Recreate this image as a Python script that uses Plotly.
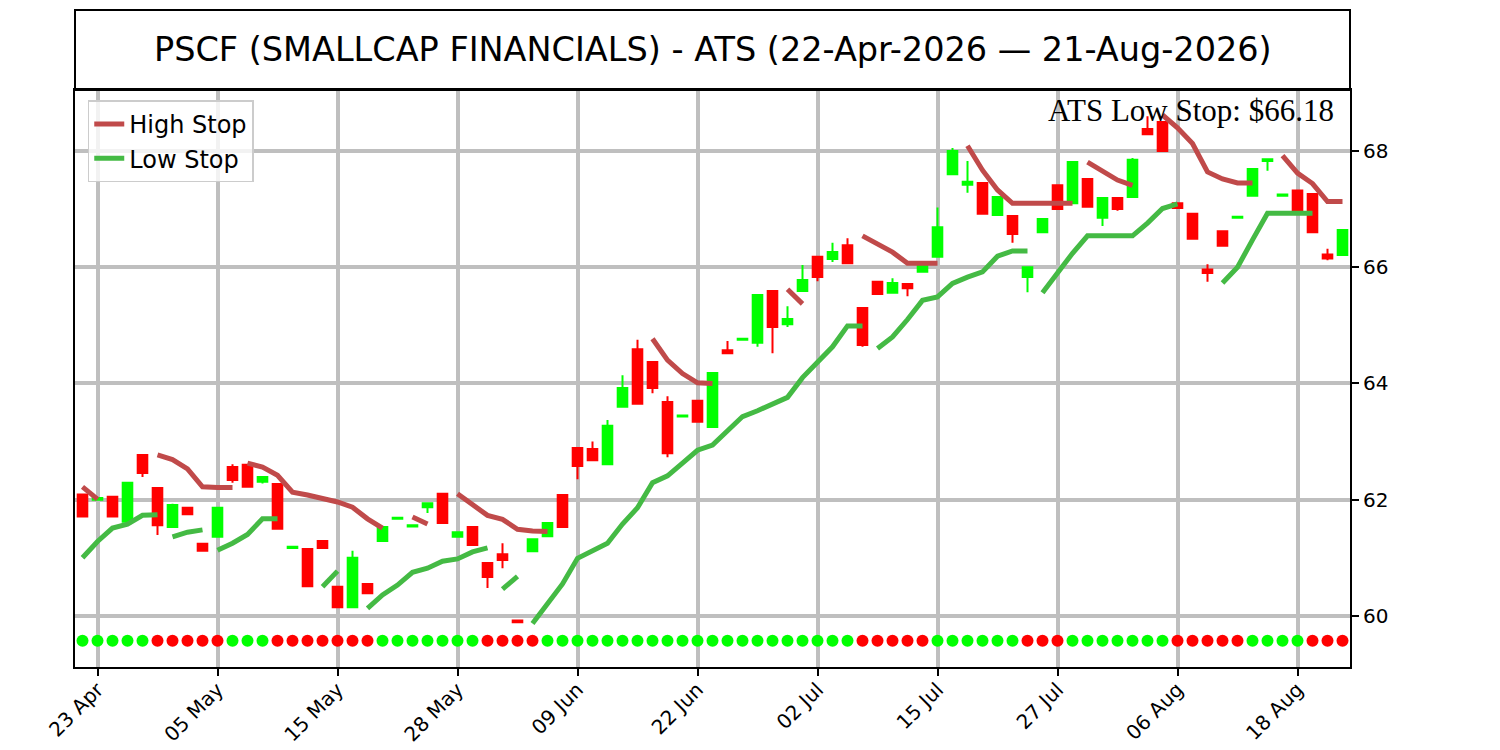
import pandas as pd
import plotly.graph_objects as go

TITLE = "PSCF (SMALLCAP FINANCIALS) - ATS (22-Apr-2026 — 21-Aug-2026)"
LAST_STOP_TEXT = "ATS Low Stop: $66.18"

# trading days 22 Apr .. 21 Aug 2026 (market holidays skipped)
HOLIDAYS = ["2026-05-25", "2026-06-19", "2026-07-03"]

OPEN = [62.09, 62.00, 62.05, 61.62, 62.77, 62.20, 61.53, 61.86, 61.24, 61.36,
        62.56, 62.60, 62.31, 62.27, 61.17, 61.15, 61.29, 60.50, 60.15, 60.55,
        61.29, 61.67, 61.54, 61.87, 62.10, 61.36, 61.53, 60.91, 61.06, 59.92,
        61.11, 61.37, 62.08, 62.89, 62.87, 62.61, 63.60, 64.59, 64.37, 63.68,
        63.43, 63.70, 63.25, 64.57, 64.75, 64.70, 65.59, 65.02, 65.59, 66.18,
        66.14, 66.38, 65.30, 65.75, 65.56, 65.71, 65.92, 66.18, 67.60, 67.42,
        67.45, 66.90, 66.88, 65.83, 66.60, 67.41, 67.10, 67.52, 66.85, 67.19,
        67.21, 68.38, 68.50, 67.10, 66.92, 65.96, 66.62, 66.85, 67.23, 67.83,
        67.23, 67.32, 67.26, 66.22, 66.21]
HIGH = [62.09, 62.04, 62.05, 62.29, 62.78, 62.20, 61.93, 61.86, 61.24, 61.86,
        62.61, 62.60, 62.39, 62.27, 61.19, 61.15, 61.29, 60.50, 61.12, 60.55,
        61.53, 61.69, 61.56, 61.94, 62.10, 61.44, 61.53, 60.91, 61.25, 59.93,
        61.32, 61.60, 62.08, 62.89, 63.00, 63.37, 64.14, 64.75, 64.37, 63.78,
        63.45, 63.70, 64.18, 64.73, 64.77, 65.52, 65.59, 65.33, 66.04, 66.18,
        66.42, 66.50, 65.30, 65.75, 65.81, 65.71, 66.04, 67.03, 68.05, 67.83,
        67.45, 67.21, 66.88, 66.00, 66.83, 67.41, 67.81, 67.52, 67.19, 67.19,
        67.88, 68.60, 68.50, 67.10, 66.92, 66.05, 66.62, 66.87, 67.69, 67.87,
        67.25, 67.32, 67.26, 66.32, 66.64]
LOW = [61.71, 61.99, 61.71, 61.62, 62.39, 61.39, 61.53, 61.75, 61.12, 61.36,
       62.29, 62.22, 62.28, 61.50, 61.17, 60.51, 61.15, 60.15, 60.15, 60.39,
       61.29, 61.67, 61.54, 61.77, 61.60, 61.36, 61.22, 60.48, 60.82, 59.88,
       61.11, 61.37, 61.53, 62.35, 62.68, 62.61, 63.60, 63.65, 63.83, 62.73,
       63.43, 63.34, 63.25, 64.52, 64.75, 64.63, 64.52, 64.97, 65.59, 65.76,
       66.09, 66.07, 64.63, 65.54, 65.56, 65.50, 65.92, 66.18, 67.60, 67.28,
       66.92, 66.90, 66.42, 65.57, 66.60, 67.00, 67.10, 67.04, 66.71, 66.97,
       67.21, 68.29, 68.00, 67.02, 66.49, 65.75, 66.37, 66.85, 67.23, 67.66,
       67.23, 66.96, 66.60, 66.12, 66.21]
CLOSE = [61.71, 62.03, 61.71, 62.29, 62.46, 61.56, 61.91, 61.75, 61.12, 61.86,
         62.34, 62.22, 62.39, 61.50, 61.19, 60.51, 61.17, 60.15, 61.00, 60.39,
         61.53, 61.69, 61.56, 61.94, 61.60, 61.44, 61.22, 60.67, 60.96, 59.89,
         61.32, 61.60, 61.53, 62.58, 62.68, 63.27, 63.92, 63.65, 63.92, 62.80,
         63.45, 63.34, 64.18, 64.52, 64.77, 65.52, 64.97, 65.11, 65.78, 65.83,
         66.26, 66.07, 64.66, 65.54, 65.73, 65.64, 66.04, 66.69, 68.00, 67.47,
         66.92, 67.21, 66.57, 66.00, 66.83, 67.00, 67.81, 67.04, 67.19, 67.00,
         67.85, 68.29, 68.00, 67.02, 66.49, 65.90, 66.37, 66.87, 67.69, 67.86,
         67.25, 66.96, 66.60, 66.15, 66.64]

# stop lines come in separate runs: (first bar index, values)
HIGH_STOP_SEGMENTS = [
    (0, [62.22, 62.01]),
    (5, [62.77, 62.69, 62.53, 62.22, 62.21, 62.21]),
    (11, [62.63, 62.56, 62.42, 62.13, 62.08, 62.03, 61.96, 61.87, 61.67, 61.51]),
    (22, [61.70, 61.58]),
    (25, [62.10, 61.92, 61.73, 61.66, 61.49, 61.46, 61.45]),
    (38, [64.77, 64.40, 64.17, 64.01, 64.00]),
    (47, [65.62, 65.37]),
    (52, [66.54, 66.40, 66.26, 66.07, 66.07, 66.07]),
    (59, [68.09, 67.67, 67.33, 67.10, 67.10, 67.10, 67.10, 67.10]),
    (67, [67.81, 67.66, 67.50, 67.41]),
    (72, [68.62, 68.40, 68.13, 67.64, 67.52, 67.45, 67.45]),
    (80, [67.92, 67.62, 67.44, 67.13, 67.13]),
]
LOW_STOP_SEGMENTS = [
    (0, [61.00, 61.28, 61.51, 61.58, 61.73, 61.74]),
    (6, [61.36, 61.44, 61.48]),
    (9, [61.13, 61.25, 61.40, 61.67, 61.67]),
    (16, [60.50, 60.77]),
    (19, [60.13, 60.36, 60.53, 60.75, 60.82, 60.94, 60.98, 61.10, 61.17]),
    (28, [60.46, 60.68]),
    (30, [59.87, 60.20, 60.55, 60.99, 61.12, 61.25, 61.58, 61.86, 62.29, 62.41,
          62.63, 62.85, 62.94, 63.20, 63.43, 63.53, 63.65, 63.76, 64.10, 64.35,
          64.63, 64.99, 64.99]),
    (53, [64.60, 64.80, 65.10, 65.43, 65.49, 65.72, 65.83, 65.92, 66.19, 66.28,
          66.28]),
    (64, [65.56, 65.90, 66.24, 66.54, 66.54, 66.54, 66.54, 66.76, 67.01, 67.09]),
    (76, [65.73, 66.00, 66.47, 66.93, 66.93, 66.93, 66.93]),
]

# trend state per bar (G = up, R = down), shown as the dot row at the bottom
TREND = ("GGGGG RRRRR GGG RRRRRRR GGGGGGG RRRR GGGGGGGGGGGGGGGGGGGGG "
         "RRRRR GGGGGG RRR GGGGGGG RRRRR GGGG RRR").replace(" ", "")
DOT_LEVEL = 59.57

UP = "#00ff00"
DOWN = "#ff0000"
HIGH_STOP_COLOR = "rgb(192,74,74)"
LOW_STOP_COLOR = "rgb(68,186,68)"
GRID = "#bfbfbf"
FONT = "DejaVu Sans"

dates = pd.bdate_range("2026-04-22", "2026-08-21", freq="C", holidays=HOLIDAYS)
idx = list(range(len(dates)))
tick_pos = idx[1::8]
tick_text = list(dates[1::8].strftime("%d %b"))


def segments_to_xy(segments):
    # None between runs so plotly breaks the line there
    xs, ys = [], []
    for start, values in segments:
        if xs:
            xs.append(start - 0.5)
            ys.append(None)
        xs.extend(range(start, start + len(values)))
        ys.extend(values)
    return xs, ys


fig = go.Figure()

fig.add_trace(
    go.Candlestick(
        x=idx,
        open=OPEN,
        high=HIGH,
        low=LOW,
        close=CLOSE,
        increasing=dict(line=dict(color=UP, width=2), fillcolor=UP),
        decreasing=dict(line=dict(color=DOWN, width=2), fillcolor=DOWN),
        showlegend=False,
        hovertext=[d.strftime("%d %b %Y") for d in dates],
    )
)

hx, hy = segments_to_xy(HIGH_STOP_SEGMENTS)
fig.add_trace(
    go.Scatter(x=hx, y=hy, mode="lines", name="High Stop",
               line=dict(color=HIGH_STOP_COLOR, width=5))
)
lx, ly = segments_to_xy(LOW_STOP_SEGMENTS)
fig.add_trace(
    go.Scatter(x=lx, y=ly, mode="lines", name="Low Stop",
               line=dict(color=LOW_STOP_COLOR, width=5))
)

fig.add_trace(
    go.Scatter(
        x=idx,
        y=[DOT_LEVEL] * len(idx),
        mode="markers",
        marker=dict(size=12, color=[UP if s == "G" else DOWN for s in TREND]),
        showlegend=False,
        hoverinfo="skip",
    )
)

plot_h = 577
fig.add_shape(
    type="rect", xref="paper", yref="paper",
    x0=0, x1=1, y0=1, y1=1 + 80 / plot_h,
    line=dict(color="black", width=2),
)
fig.add_annotation(
    text=TITLE, xref="paper", yref="paper", x=0.5, y=1 + 40 / plot_h,
    xanchor="center", yanchor="middle", showarrow=False,
    font=dict(family=FONT, size=33.5, color="black"),
)
fig.add_annotation(
    text=LAST_STOP_TEXT, xref="paper", yref="paper", x=0.989, y=0.998,
    xanchor="right", yanchor="top", showarrow=False,
    font=dict(family="Liberation Serif", size=31, color="black"),
)

axis_common = dict(
    showgrid=True, gridcolor=GRID, gridwidth=4,
    showline=True, linecolor="black", linewidth=2, mirror=True,
    ticks="outside", ticklen=7, tickwidth=1.5, tickcolor="black",
    tickfont=dict(family=FONT, size=20, color="black"),
    zeroline=False, automargin=False,
)

# the page body adds an 8px margin, so the figure is 8px smaller than the window
fig.update_layout(
    width=1492,
    height=742,
    margin=dict(l=67, r=150, t=82, b=83),
    paper_bgcolor="white",
    plot_bgcolor="white",
    boxgap=0.36,
    boxgroupgap=0,
    font=dict(family=FONT, color="black"),
    legend=dict(
        x=0.01, y=0.982, xanchor="left", yanchor="top",
        bgcolor="rgba(255,255,255,0.8)", bordercolor="#cccccc", borderwidth=1.5,
        font=dict(family=FONT, size=24, color="black"),
        itemwidth=30, tracegroupgap=0,
    ),
    xaxis=dict(
        range=[-0.5, 84.5], tickvals=tick_pos, ticktext=tick_text,
        tickangle=-45, ticklabelstandoff=-6,
        rangeslider=dict(visible=False), **axis_common,
    ),
    yaxis=dict(
        range=[59.12, 69.05], tickvals=[60, 62, 64, 66, 68], side="right",
        **axis_common,
    ),
)

fig.write_html("out.html")
